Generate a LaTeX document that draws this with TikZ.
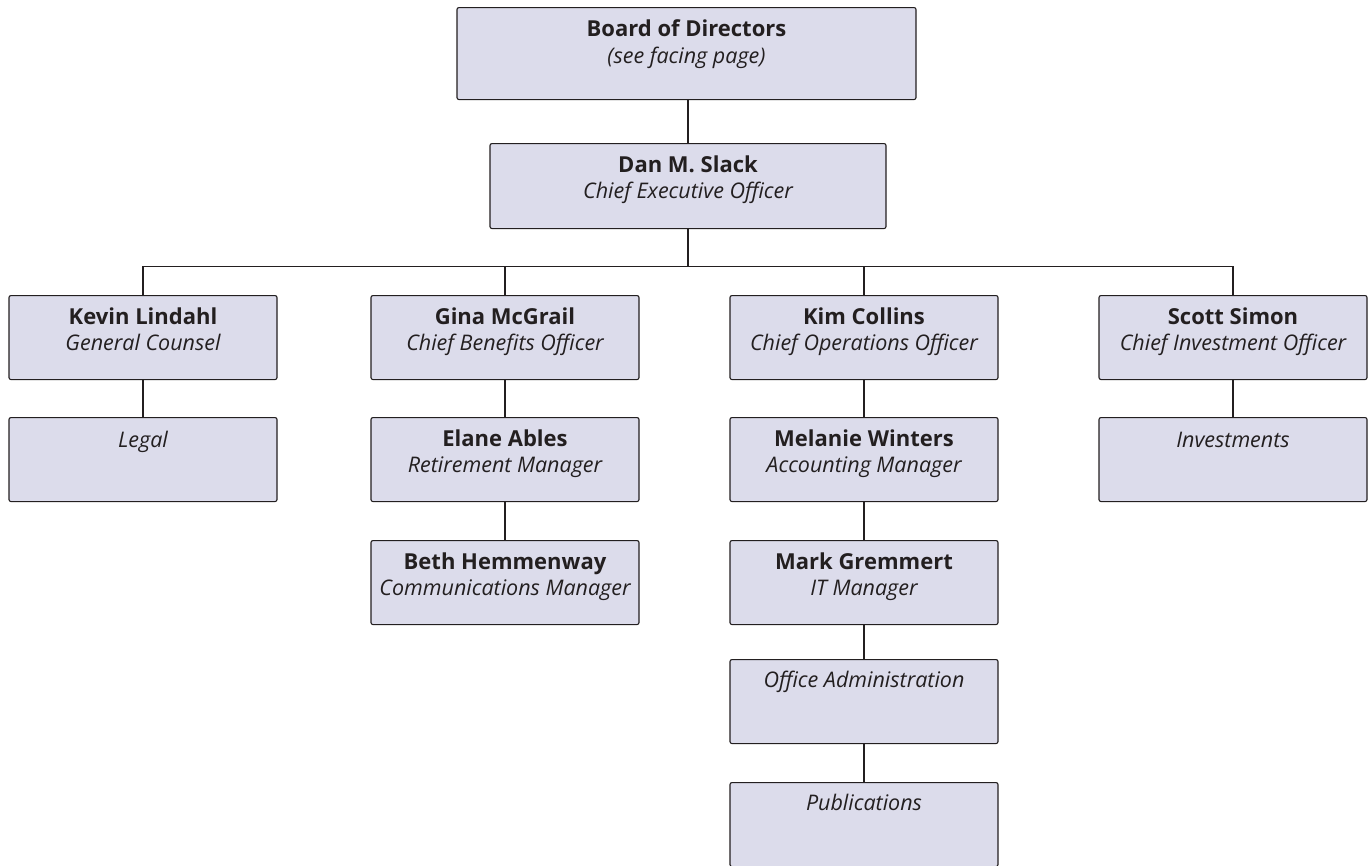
\documentclass[tikz,border=0pt]{standalone}
\usepackage{fontspec}
\setmainfont{Open Sans}
\definecolor{boxfill}{RGB}{220,220,235}
\definecolor{ink}{RGB}{35,31,32}
\tikzset{
 orgbox/.style={draw=ink, fill=boxfill, line width=1.1pt, rounded corners=2pt, minimum width=268pt, minimum height=84pt, inner sep=0pt, anchor=north},
 nametext/.style={font=\fontsize{22}{26}\selectfont\bfseries, text=ink, anchor=base, inner sep=0pt},
 roletext/.style={font=\fontsize{21.5}{24}\selectfont\itshape, text=ink, anchor=base, inner sep=0pt},
 link/.style={draw=ink, line width=1.1pt},
}
\begin{document}
\begin{tikzpicture}[x=1pt,y=-1pt]
\useasboundingbox (0,0) rectangle (1370,865);
% top
\node[orgbox, minimum width=459pt, minimum height=92pt] (board) at (686.5,7) {};
\node[nametext] (boardN) at ([yshift=-29pt]board.north) {Board of Directors};
\node[roletext] (boardR) at ([yshift=-56pt]board.north) {(see facing page)};
\node[orgbox, minimum width=396pt, minimum height=85pt] (dan) at (688,143) {};
\node[nametext] (danN) at ([yshift=-29pt]dan.north) {Dan M. Slack};
\node[roletext] (danR) at ([yshift=-55pt]dan.north) {Chief Executive Officer};
% level 1
\node[orgbox] (kevin) at (143,295) {};
\node[nametext] (kevinN) at ([yshift=-29pt]kevin.north) {Kevin Lindahl};
\node[roletext] (kevinR) at ([yshift=-55pt]kevin.north) {General Counsel};
\node[orgbox] (gina) at (505,295) {};
\node[nametext] (ginaN) at ([yshift=-29pt]gina.north) {Gina McGrail};
\node[roletext] (ginaR) at ([yshift=-55pt]gina.north) {Chief Benefits Officer};
\node[orgbox] (kim) at (864,295) {};
\node[nametext] (kimN) at ([yshift=-29pt]kim.north) {Kim Collins};
\node[roletext] (kimR) at ([yshift=-55pt]kim.north) {Chief Operations Officer};
\node[orgbox] (scott) at (1233,295) {};
\node[nametext] (scottN) at ([yshift=-29pt]scott.north) {Scott Simon};
\node[roletext] (scottR) at ([yshift=-55pt]scott.north) {Chief Investment Officer};
% level 2
\node[orgbox] (legal) at (143,417) {};
\node[roletext] (legalR) at ([yshift=-30pt]legal.north) {Legal};
\node[orgbox] (elane) at (505,417) {};
\node[nametext] (elaneN) at ([yshift=-29pt]elane.north) {Elane Ables};
\node[roletext] (elaneR) at ([yshift=-55pt]elane.north) {Retirement Manager};
\node[orgbox] (melanie) at (864,417) {};
\node[nametext] (melanieN) at ([yshift=-29pt]melanie.north) {Melanie Winters};
\node[roletext] (melanieR) at ([yshift=-55pt]melanie.north) {Accounting Manager};
\node[orgbox] (invest) at (1233,417) {};
\node[roletext] (investR) at ([yshift=-30pt]invest.north) {Investments};
% level 3
\node[orgbox] (beth) at (505,540) {};
\node[nametext] (bethN) at ([yshift=-29pt]beth.north) {Beth Hemmenway};
\node[roletext] (bethR) at ([yshift=-55pt]beth.north) {Communications Manager};
\node[orgbox] (mark) at (864,540) {};
\node[nametext] (markN) at ([yshift=-29pt]mark.north) {Mark Gremmert};
\node[roletext] (markR) at ([yshift=-55pt]mark.north) {IT Manager};
% level 4, 5
\node[orgbox] (office) at (864,659) {};
\node[roletext] (officeR) at ([yshift=-28pt]office.north) {Office Administration};
\node[orgbox] (pubs) at (864,782) {};
\node[roletext] (pubsR) at ([yshift=-28pt]pubs.north) {Publications};
% connectors
\draw[link] (dan.north |- board.south) -- (dan.north);
\draw[link] (dan.south) -- ++(0,37) coordinate (bus);
\draw[link] (kevin.north) |- (bus) -| (scott.north);
\draw[link] (gina.north) -- (gina.north |- bus);
\draw[link] (kim.north) -- (kim.north |- bus);
\draw[link] (kevin.south) -- (legal.north);
\draw[link] (gina.south) -- (elane.north);
\draw[link] (elane.south) -- (beth.north);
\draw[link] (kim.south) -- (melanie.north);
\draw[link] (melanie.south) -- (mark.north);
\draw[link] (mark.south) -- (office.north);
\draw[link] (office.south) -- (pubs.north);
\draw[link] (scott.south) -- (invest.north);
\end{tikzpicture}
\end{document}
